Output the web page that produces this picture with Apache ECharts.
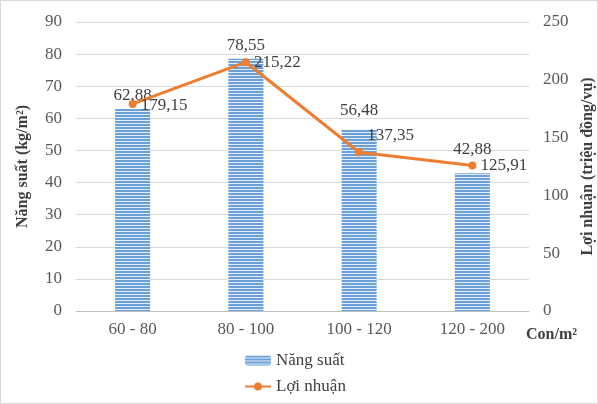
<!DOCTYPE html>
<html><head><meta charset="utf-8">
<script src="https://cdn.jsdelivr.net/npm/echarts@6/dist/echarts.min.js"></script>
<style>
html,body{margin:0;padding:0;background:#fff;}
#c{position:absolute;left:0;top:0;width:596px;height:402px;border:1px solid #d9d9d9;}
</style></head>
<body><div id="c"></div>
<script>
var categories = ['60 - 80', '80 - 100', '100 - 120', '120 - 200'];
var nangSuat = [62.88, 78.55, 56.48, 42.88];
var loiNhuan = [179.15, 215.22, 137.35, 125.91];

var FONT = '"Liberation Serif", "Times New Roman", serif';
function fmt(v){ return v.toFixed(2).replace('.', ','); }

var pc = document.createElement('canvas');
pc.width = 4; pc.height = 3;
var g = pc.getContext('2d');
g.fillStyle = '#e3ecf7'; g.fillRect(0,0,4,3);
g.fillStyle = '#6a9fd8'; g.fillRect(0,0,4,2);

var chart = echarts.init(document.getElementById('c'));
chart.setOption({
  animation: false,
  textStyle: {fontFamily: FONT},
  grid: {left: 75, right: 68, top: 21, bottom: 92, outerBoundsMode: 'none', containLabel: false},
  legend: {
    orient: 'vertical', left: 238, top: 346, itemGap: 9,
    itemWidth: 26, itemHeight: 10,
    textStyle: {fontFamily: FONT, fontSize: 17, color: '#404040'},
    data: ['Năng suất', 'Lợi nhuận']
  },
  xAxis: {
    type: 'category', data: categories,
    axisLine: {lineStyle: {color: '#bfbfbf'}},
    axisTick: {show: false},
    axisLabel: {fontFamily: FONT, fontSize: 17, color: '#595959', margin: 10},
    name: 'Con/m²', nameLocation: 'end', nameGap: -3,
    nameTextStyle: {fontFamily: FONT, fontSize: 16, fontWeight: 'bold', color: '#404040', verticalAlign: 'top', padding: [16,0,0,0]}
  },
  yAxis: [{
    type: 'value', min: 0, max: 90, interval: 10,
    axisLine: {show: false}, axisTick: {show: false},
    splitLine: {lineStyle: {color: '#d9d9d9'}},
    axisLabel: {fontFamily: FONT, fontSize: 17, color: '#595959', margin: 14},
    name: 'Năng suất (kg/m²)', nameLocation: 'middle', nameGap: 45, nameRotate: 90,
    nameTextStyle: {fontFamily: FONT, fontSize: 16, fontWeight: 'bold', color: '#404040'}
  }, {
    type: 'value', min: 0, max: 250, interval: 50,
    axisLine: {show: false}, axisTick: {show: false},
    splitLine: {show: false},
    axisLabel: {fontFamily: FONT, fontSize: 17, color: '#595959', margin: 14},
    name: 'Lợi nhuận (triệu đồng/vụ)', nameLocation: 'middle', nameGap: 49, nameRotate: 90,
    nameTextStyle: {fontFamily: FONT, fontSize: 16, fontWeight: 'bold', color: '#404040'}
  }],
  series: [{
    name: 'Năng suất', type: 'bar', yAxisIndex: 0, barWidth: 35,
    data: nangSuat.map(function(v, i){
      var off = [0, 0, -6, -10][i];
      return {value: v, label: {offset: [0, off]}};
    }),
    itemStyle: {color: {image: pc, repeat: 'repeat'}},
    label: {show: true, position: 'top', distance: 5, formatter: function(p){return fmt(p.value);},
      fontFamily: FONT, fontSize: 17, color: '#404040'}
  }, {
    name: 'Lợi nhuận', type: 'line', yAxisIndex: 1,
    data: loiNhuan.map(function(v, i){
      var off = [[0,2],[0,0],[0,-17],[0,0]][i];
      return {value: v, label: {offset: off}};
    }),
    lineStyle: {color: '#ed7d31', width: 3},
    itemStyle: {color: '#ed7d31'},
    symbol: 'circle', symbolSize: 8,
    label: {show: true, position: 'right', distance: 4, formatter: function(p){return fmt(p.value);},
      fontFamily: FONT, fontSize: 17, color: '#404040'}
  }]
});
</script></body></html>
